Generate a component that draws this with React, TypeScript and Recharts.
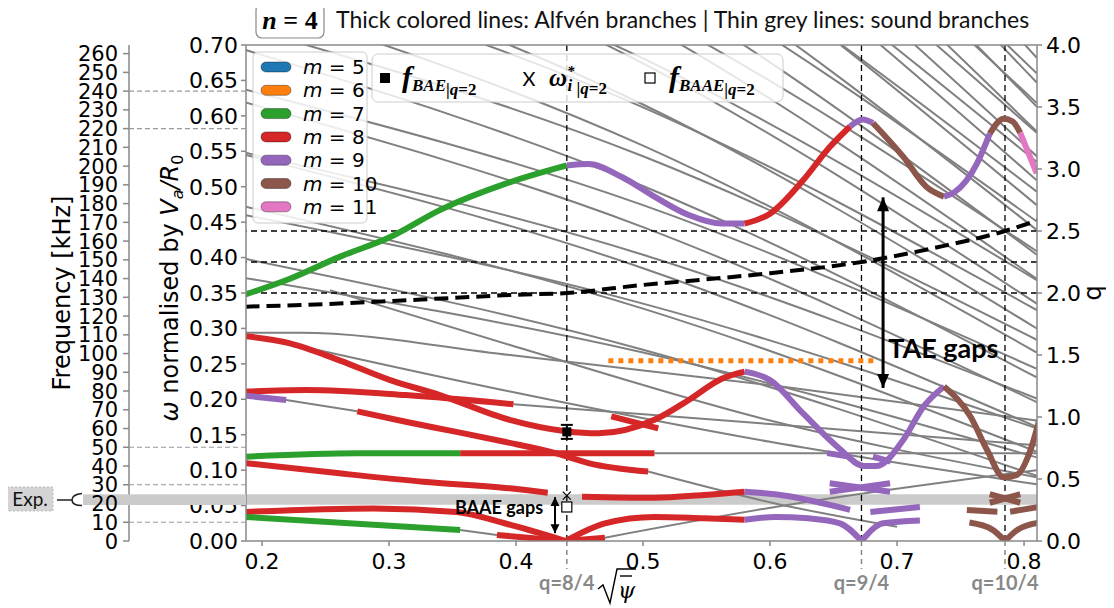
import React from 'react';
import { ComposedChart, Line, XAxis, YAxis, ReferenceLine, ReferenceArea, ReferenceDot } from 'recharts';

type Pt = [number, number];

// axes
const xTicks = [0.2, 0.3, 0.4, 0.5, 0.6, 0.7, 0.8];
const xDomain = [0.1874, 0.8102];
const omegaTicks = [0, 0.05, 0.1, 0.15, 0.2, 0.25, 0.3, 0.35, 0.4, 0.45, 0.5, 0.55, 0.6, 0.65, 0.7];
const omegaDomain = [0, 0.7];
const qTicks = [0, 0.5, 1, 1.5, 2, 2.5, 3, 3.5, 4];
const qDomain = [0, 4];
const freqTicks = [0, 10, 20, 30, 40, 50, 60, 70, 80, 90, 100, 110, 120, 130, 140, 150, 160, 170, 180, 190, 200, 210, 220, 230, 240, 250, 260];
const freqDashed = [10, 30, 50, 220, 240];
const kHzPerOmega = 378;
const freqDomain = [0, 0.7 * kHzPerOmega];
const expBand: Pt = [0.051, 0.066];

const rationalSurfaces = [
  { x: 0.44, label: 'q=8/4' },
  { x: 0.672, label: 'q=9/4' },
  { x: 0.785, label: 'q=10/4' },
];
const qLevels = [2, 2.25, 2.5];

// q profile (right axis)
const qProfile: Pt[] = [
  [0.187, 1.89], [0.25, 1.91], [0.3, 1.935], [0.35, 1.96], [0.395, 1.984], [0.44, 2.0], [0.5, 2.065],
  [0.55, 2.11], [0.6, 2.16], [0.672, 2.25], [0.73, 2.365], [0.785, 2.5], [0.812, 2.59],
];

// thin grey sound branches
const soundSteep: Pt[][] = [
  [[0.187, 0.398], [0.5, 0.27], [0.81, 0.092]],
  [[0.187, 0.472], [0.5, 0.328], [0.81, 0.126]],
  [[0.187, 0.545], [0.5, 0.385], [0.81, 0.161]],
  [[0.187, 0.619], [0.5, 0.443], [0.81, 0.196]],
  [[0.187, 0.693], [0.5, 0.501], [0.81, 0.231]],
  [[0.187, 0.766], [0.5, 0.558], [0.81, 0.266]],
  [[0.187, 0.84], [0.5, 0.616], [0.81, 0.3]],
  [[0.187, 0.914], [0.5, 0.674], [0.81, 0.335]],
  [[0.187, 0.988], [0.5, 0.731], [0.81, 0.37]],
  [[0.187, 1.06], [0.5, 0.789], [0.81, 0.404]],
  [[0.187, 1.14], [0.5, 0.847], [0.81, 0.439]],
  [[0.187, 1.21], [0.5, 0.904], [0.81, 0.474]],
  [[0.187, 1.28], [0.5, 0.962], [0.81, 0.509]],
  [[0.187, 1.36], [0.5, 1.02], [0.81, 0.543]],
  [[0.187, 1.43], [0.5, 1.08], [0.81, 0.578]],
  [[0.187, 1.5], [0.5, 1.14], [0.81, 0.613]],
  [[0.187, 1.58], [0.5, 1.19], [0.81, 0.647]],
  [[0.187, 1.65], [0.5, 1.25], [0.81, 0.682]],
];
const soundGentle: Pt[][] = [
  [[0.187, 0.371], [0.5, 0.266], [0.81, 0.118]],
  [[0.187, 0.46], [0.5, 0.335], [0.81, 0.159]],
  [[0.187, 0.548], [0.5, 0.404], [0.81, 0.201]],
  [[0.187, 0.637], [0.5, 0.474], [0.81, 0.243]],
  [[0.187, 0.725], [0.5, 0.543], [0.81, 0.284]],
  [[0.187, 0.814], [0.5, 0.612], [0.81, 0.326]],
  [[0.187, 0.902], [0.5, 0.681], [0.81, 0.368]],
  [[0.187, 0.991], [0.5, 0.75], [0.81, 0.409]],
  [[0.187, 1.08], [0.5, 0.82], [0.81, 0.451]],
  [[0.187, 1.17], [0.5, 0.889], [0.81, 0.493]],
  [[0.187, 1.26], [0.5, 0.958], [0.81, 0.535]],
  [[0.187, 1.34], [0.5, 1.03], [0.81, 0.576]],
  [[0.187, 1.43], [0.5, 1.1], [0.81, 0.618]],
  [[0.187, 1.52], [0.5, 1.16], [0.81, 0.66]],
  [[0.187, 1.61], [0.5, 1.23], [0.81, 0.701]],
];
const soundLow: Pt[][] = [
  [[0.2535, 0.354], [0.3953, 0.2766], [0.6, 0.17], [0.81, 0.09]],
  [[0.187, 0.294], [0.23, 0.294], [0.3953, 0.2625], [0.6, 0.22], [0.81, 0.17]],
  [[0.198, 0.288], [0.3953, 0.211], [0.6, 0.14], [0.81, 0.08]],
  [[0.398, 0.193], [0.6, 0.165], [0.81, 0.135]],
  [[0.219, 0.199], [0.275, 0.183]],
  [[0.504, 0.098], [0.604, 0.053], [0.7, 0.02]],
  [[0.509, 0.1237], [0.812, 0.1237]],
  [[0.356, 0.0155], [0.385, 0.0085]],
  [[0.47, 0.0047], [0.604, 0.048], [0.81, 0.1]],
];

// thick coloured Alfven branches, m -> colour
const mColors: Record<number, string> = {
  5: '#1f77b4', 6: '#ff7f0e', 7: '#2ca02c', 8: '#d62728', 9: '#9467bd', 10: '#8c564b', 11: '#e377c2',
};
const legendM = [5, 6, 7, 8, 9, 10, 11];

const alfven: { m: number; pts: Pt[] }[] = [
  // upper TAE-like branch
  { m: 7, pts: [[0.187, 0.348], [0.222, 0.37], [0.261, 0.401], [0.301, 0.429], [0.34, 0.467], [0.393, 0.505], [0.44, 0.53]] },
  { m: 9, pts: [[0.44, 0.53], [0.457, 0.532], [0.483, 0.514], [0.509, 0.486], [0.536, 0.46], [0.562, 0.448], [0.58, 0.448]] },
  { m: 8, pts: [[0.58, 0.448], [0.6, 0.462], [0.626, 0.509], [0.647, 0.556], [0.663, 0.585]] },
  { m: 9, pts: [[0.663, 0.585], [0.673, 0.595], [0.681, 0.59]] },
  { m: 10, pts: [[0.681, 0.59], [0.705, 0.542], [0.723, 0.5], [0.737, 0.486]] },
  { m: 9, pts: [[0.737, 0.486], [0.745, 0.492], [0.763, 0.533], [0.773, 0.575]] },
  { m: 10, pts: [[0.773, 0.575], [0.784, 0.596], [0.791, 0.592], [0.797, 0.576]] },
  { m: 11, pts: [[0.797, 0.576], [0.81, 0.519]] },
  // lower branch through BAE
  { m: 8, pts: [[0.187, 0.289], [0.222, 0.279], [0.261, 0.255], [0.301, 0.227], [0.34, 0.206], [0.395, 0.171], [0.439, 0.155], [0.465, 0.152], [0.509, 0.171], [0.536, 0.199], [0.562, 0.229], [0.58, 0.239]] },
  { m: 9, pts: [[0.58, 0.239], [0.6, 0.227], [0.626, 0.18], [0.653, 0.133], [0.674, 0.106], [0.684, 0.106], [0.705, 0.143], [0.721, 0.19], [0.737, 0.218]] },
  { m: 10, pts: [[0.737, 0.218], [0.758, 0.175], [0.771, 0.128], [0.784, 0.09], [0.794, 0.093], [0.805, 0.128], [0.812, 0.171]] },
  { m: 8, pts: [[0.475, 0.176], [0.512, 0.159]] },
  // near-horizontal branches
  { m: 8, pts: [[0.187, 0.211], [0.235, 0.213], [0.313, 0.206], [0.398, 0.193]] },
  { m: 9, pts: [[0.187, 0.205], [0.219, 0.199]] },
  { m: 8, pts: [[0.275, 0.183], [0.314, 0.168], [0.353, 0.154], [0.391, 0.14], [0.431, 0.124], [0.457, 0.11], [0.504, 0.098]] },
  { m: 7, pts: [[0.187, 0.119], [0.275, 0.1237], [0.356, 0.1237]] },
  { m: 8, pts: [[0.356, 0.1237], [0.509, 0.1237]] },
  { m: 8, pts: [[0.187, 0.11], [0.261, 0.0955], [0.327, 0.0837], [0.395, 0.0744], [0.425, 0.068]] },
  { m: 8, pts: [[0.452, 0.0625], [0.509, 0.061], [0.548, 0.065], [0.58, 0.0696]] },
  { m: 9, pts: [[0.58, 0.0696], [0.604, 0.066], [0.663, 0.044]] },
  // continuum V shapes
  { m: 8, pts: [[0.187, 0.041], [0.288, 0.046], [0.353, 0.041], [0.393, 0.024], [0.439, 0.0]] },
  { m: 8, pts: [[0.439, 0.0], [0.47, 0.025], [0.509, 0.034], [0.548, 0.032], [0.58, 0.03]] },
  { m: 9, pts: [[0.58, 0.03], [0.604, 0.034], [0.63, 0.032], [0.655, 0.025], [0.672, 0.0]] },
  { m: 9, pts: [[0.672, 0.0], [0.689, 0.025], [0.718, 0.029]] },
  { m: 7, pts: [[0.187, 0.034], [0.356, 0.0155]] },
  { m: 8, pts: [[0.385, 0.0085], [0.439, 0.0]] },
  { m: 8, pts: [[0.439, 0.0], [0.47, 0.0047]] },
  { m: 9, pts: [[0.647, 0.0814], [0.6945, 0.0696]] },
  { m: 9, pts: [[0.647, 0.0696], [0.6945, 0.0814]] },
  { m: 9, pts: [[0.679, 0.041], [0.718, 0.048]] },
  { m: 9, pts: [[0.645, 0.124], [0.663, 0.119]] },
  { m: 9, pts: [[0.681, 0.119], [0.695, 0.112]] },
  { m: 10, pts: [[0.773, 0.066], [0.797, 0.054]] },
  { m: 10, pts: [[0.773, 0.054], [0.797, 0.066]] },
  { m: 10, pts: [[0.755, 0.0437], [0.779, 0.0414]] },
  { m: 10, pts: [[0.789, 0.0414], [0.813, 0.0484]] },
  { m: 10, pts: [[0.757, 0.026], [0.775, 0.016], [0.785, 0.0]] },
  { m: 10, pts: [[0.785, 0.0], [0.795, 0.016], [0.812, 0.026]] },
];

// annotations
const fBAE: Pt = [0.44, 0.154];
const omegaStar: Pt = [0.44, 0.064];
const fBAAE: Pt = [0.44, 0.048];
const taeArrow: Pt[] = [[0.689, 0.485], [0.689, 0.216]];
const baaeArrow: Pt[] = [[0.4307, 0.062], [0.4307, 0.011]];
const taeLimit: Pt[] = [[0.4727, 0.2545], [0.6813, 0.2545]];
const taeText: Pt = [0.693, 0.272];
const baaeText: Pt = [0.4213, 0.0466];

const rows = (pts: Pt[]) => pts.map(([x, y]) => ({ x, y }));

const tickFont = { fontSize: 22, fontFamily: 'DejaVu Sans', fill: '#000' };
const fmt1 = (v: number) => v.toFixed(1);
const fmt2 = (v: number) => v.toFixed(2);

const FreqTick = (props: any) => {
  const { x, y, payload } = props;
  const ax = x + 11;
  const v = payload.value;
  return (
    <g>
      {v === 20 && (
        <g>
          <rect x={ax - 46} y={y - 9.2} width={163} height={10.7} fill="#cbcbcb" />
          <rect x={ax - 122} y={y - 16.5} width={46} height={24} fill="#d4d4d4" stroke="#bbb" strokeDasharray="2 2" />
          <text x={ax - 99} y={y - 4.5} dy="0.35em" textAnchor="middle" fontSize={19} fontFamily="Lato" fill="#111">Exp.</text>
          <path d={`M${ax - 72},${y - 3.5} H${ax - 57} M${ax - 47},${y - 10} Q${ax - 57},${y - 9} ${ax - 57},${y - 3.5} Q${ax - 57},${y + 2} ${ax - 47},${y + 2}`} fill="none" stroke="#222" strokeWidth={1.6} />
        </g>
      )}
      {freqDashed.includes(v) && (
        <line x1={ax} x2={ax + 117} y1={y} y2={y} stroke="#999" strokeWidth={1.2} strokeDasharray="5 3" />
      )}
      <text x={x} y={y} dy="0.36em" textAnchor="end" fontSize={21} fontFamily="DejaVu Sans" fill="#000">{v}</text>
    </g>
  );
};
const freqTick = (p: any) => <FreqTick {...p} />;

const QLabel = (props: any) => {
  const { viewBox, text } = props;
  if (!viewBox) return null;
  const x = viewBox.x;
  const bottom = viewBox.y + viewBox.height;
  return (
    <g>
      <line x1={x} x2={x} y1={bottom} y2={bottom + 28} stroke="#888" strokeWidth={1.5} strokeDasharray="5 4" />
      <text x={x} y={bottom + 49} textAnchor="middle" fill="#888" fontSize={20} fontWeight="bold" fontFamily="Lato">{text}</text>
    </g>
  );
};

const arrowHead = (w: number, h: number) => (props: any) => {
  const { cx, cy, index } = props;
  const dir = index === 0 ? 1 : -1;
  return <path key={`a${index}`} d={`M${cx},${cy} L${cx - w},${cy + dir * h} L${cx + w},${cy + dir * h} Z`} fill="#000" />;
};
const taeHead = arrowHead(6, 14);
const baaeHead = arrowHead(4.5, 9);

const BaeMarker = (p: any) => (
  <g>
    <line x1={p.cx} x2={p.cx} y1={p.cy - 7} y2={p.cy + 7} stroke="#000" strokeWidth={2} />
    <line x1={p.cx - 6} x2={p.cx + 6} y1={p.cy - 7} y2={p.cy - 7} stroke="#000" strokeWidth={2} />
    <line x1={p.cx - 6} x2={p.cx + 6} y1={p.cy + 7} y2={p.cy + 7} stroke="#000" strokeWidth={2} />
    <rect x={p.cx - 4.5} y={p.cy - 4.5} width={9} height={9} fill="#000" />
  </g>
);
const StarMarker = (p: any) => (
  <path d={`M${p.cx - 4},${p.cy - 4} L${p.cx + 4},${p.cy + 4} M${p.cx - 4},${p.cy + 4} L${p.cx + 4},${p.cy - 4}`} stroke="#000" strokeWidth={1.2} />
);
const BaaeMarker = (p: any) => (
  <rect x={p.cx - 5} y={p.cy - 5} width={10} height={10} fill="#fff" stroke="#000" strokeWidth={1.2} />
);
const TaeLabel = (p: any) => (
  <text x={p.cx} y={p.cy} dy="0.35em" fontFamily="Lato" fontWeight="bold" fontSize={27}>TAE gaps</text>
);
const BaaeLabel = (p: any) => (
  <text x={p.cx} y={p.cy} dy="0.35em" textAnchor="end" fontFamily="Lato" fontWeight="bold" fontSize={18}>BAAE gaps</text>
);

const serif = 'Liberation Serif';

const Overlay = () => (
  <svg width={1114} height={608} style={{ position: 'absolute', left: -8, top: -8, pointerEvents: 'none' }}>
    {/* title */}
    <rect x={256} y={4} width={68} height={34} rx={6} fill="#fff" stroke="#888" strokeWidth={1.2} />
    <text x={290} y={29} textAnchor="middle" fontFamily={serif} fontWeight="bold" fontSize={26}>
      <tspan fontStyle="italic">n</tspan> = 4
    </text>
    <text x={336} y={28} fontFamily="Lato" fontSize={23} fill="#111">
      Thick colored lines: Alfvén branches | Thin grey lines: sound branches
    </text>
    {/* axis titles */}
    <text transform="translate(70,293) rotate(-90)" textAnchor="middle" fontFamily="DejaVu Sans" fontSize={24}>Frequency [kHz]</text>
    <text transform="translate(178,288) rotate(-90)" textAnchor="middle" fontFamily="DejaVu Sans" fontSize={24}>
      <tspan fontStyle="italic">ω</tspan> normalised by <tspan fontStyle="italic">V</tspan>
      <tspan fontSize={16} dy={5} fontStyle="italic">a</tspan>
      <tspan dy={-5} fontStyle="italic">/R</tspan>
      <tspan fontSize={16} dy={5}>0</tspan>
    </text>
    <text transform="translate(1101,293) rotate(-90)" textAnchor="middle" fontFamily="DejaVu Sans" fontSize={24}>q</text>
    <path d="M598,589 L603,585 L610,603 L617,569 L636,569" fill="none" stroke="#000" strokeWidth={1.4} />
    <line x1={620} x2={632} y1={576} y2={576} stroke="#000" strokeWidth={1.4} />
    <text x={618} y={598} fontFamily="DejaVu Serif" fontStyle="italic" fontSize={22}>ψ</text>
    {/* m legend */}
    <rect x={253} y={52} width={114} height={171} rx={5} fill="rgba(255,255,255,0.85)" stroke="#ccc" />
    {legendM.map((m, i) => (
      <g key={m}>
        <rect x={261} y={62 + 23.3 * i} width={30} height={10} rx={5} fill={mColors[m]} stroke="rgba(0,0,0,0.35)" strokeWidth={1} />
        <text x={303} y={74 + 23.3 * i} fontFamily="DejaVu Sans" fontSize={20}>
          <tspan fontStyle="italic">m</tspan> = {m}
        </text>
      </g>
    ))}
    {/* marker legend */}
    <rect x={372} y={54} width={411} height={48} rx={6} fill="rgba(255,255,255,0.8)" stroke="#ccc" />
    <rect x={380} y={73} width={10} height={10} fill="#000" />
    <text x={402} y={87} fontFamily={serif} fontWeight="bold" fontStyle="italic">
      <tspan fontSize={30}>f</tspan>
      <tspan fontSize={17} dy={4}>BAE</tspan>
      <tspan fontSize={17} dy={4} fontStyle="normal">|</tspan>
      <tspan fontSize={17}>q</tspan>
      <tspan fontSize={17} fontStyle="normal">=2</tspan>
    </text>
    <text x={529} y={86} textAnchor="middle" fontFamily="Lato" fontSize={20}>X</text>
    <text x={549} y={86} fontFamily={serif} fontWeight="bold" fontStyle="italic">
      <tspan fontSize={25}>ω</tspan>
      <tspan fontSize={15} dy={-10}>*</tspan>
      <tspan fontSize={17} dx={-7} dy={15}>i</tspan>
      <tspan fontSize={17} dy={3} fontStyle="normal"> |</tspan>
      <tspan fontSize={17}>q</tspan>
      <tspan fontSize={17} fontStyle="normal">=2</tspan>
    </text>
    <rect x={645} y={73} width={10} height={10} fill="#fff" stroke="#000" strokeWidth={1.2} />
    <text x={669} y={87} fontFamily={serif} fontWeight="bold" fontStyle="italic">
      <tspan fontSize={30}>f</tspan>
      <tspan fontSize={17} dy={4}>BAAE</tspan>
      <tspan fontSize={17} dy={4} fontStyle="normal">|</tspan>
      <tspan fontSize={17}>q</tspan>
      <tspan fontSize={17} fontStyle="normal">=2</tspan>
    </text>
  </svg>
);

const chartMargin = { top: 37, right: 0, bottom: 0, left: 0 };

export default function App() {
  return (
    <div style={{ position: 'relative', width: 1106, height: 600 }}>
      <ComposedChart width={1106} height={600} margin={chartMargin}>
        <XAxis
          type="number"
          dataKey="x"
          domain={xDomain}
          ticks={xTicks}
          allowDataOverflow
          height={67}
          tickFormatter={fmt1}
          stroke="#888"
          strokeWidth={1.5}
          tickSize={5}
          tickMargin={7}
          tick={tickFont}
        />
        <YAxis
          yAxisId="a"
          orientation="left"
          width={117}
          domain={omegaDomain}
          ticks={omegaTicks}
          allowDataOverflow
          tickFormatter={fmt2}
          stroke="#888"
          strokeWidth={1.5}
          tickSize={5}
          tickMargin={3}
          tick={tickFont}
        />
        <YAxis
          yAxisId="b"
          orientation="left"
          width={121}
          domain={freqDomain}
          ticks={freqTicks}
          interval={0}
          allowDataOverflow
          stroke="#888"
          strokeWidth={1.5}
          tickSize={6}
          tickMargin={5}
          tick={freqTick}
        />
        <YAxis
          yAxisId="q"
          orientation="right"
          width={77}
          domain={qDomain}
          ticks={qTicks}
          allowDataOverflow
          tickFormatter={fmt1}
          stroke="#888"
          strokeWidth={1.5}
          tickSize={5}
          tickMargin={4}
          tick={tickFont}
        />

        <ReferenceArea yAxisId="a" y1={expBand[0]} y2={expBand[1]} fill="#cbcbcb" fillOpacity={1} stroke="none" />

        {[...soundSteep, ...soundGentle, ...soundLow].map((pts, i) => (
          <Line key={`s${i}`} data={rows(pts)} dataKey="y" yAxisId="a" type="monotone" stroke="#808080"
            strokeWidth={2} dot={false} activeDot={false} isAnimationActive={false} />
        ))}

        {qLevels.map((q) => (
          <ReferenceLine key={`ql${q}`} yAxisId="q" y={q} stroke="#000" strokeWidth={1.3} strokeDasharray="6 4" />
        ))}
        {rationalSurfaces.map((r) => (
          <ReferenceLine key={r.label} yAxisId="a" x={r.x} stroke="#000" strokeWidth={1.3} strokeDasharray="6 4"
            label={<QLabel text={r.label} />} />
        ))}
        <ReferenceLine yAxisId="a" y={0.7} stroke="#888" strokeWidth={1.5} />

        <Line data={rows(taeLimit)} dataKey="y" yAxisId="a" type="linear" stroke="#ff7f0e" strokeWidth={5}
          strokeDasharray="5 5" dot={false} activeDot={false} isAnimationActive={false} />

        <Line data={rows(qProfile)} dataKey="y" yAxisId="q" type="monotone" stroke="#000" strokeWidth={4}
          strokeDasharray="14 7" dot={false} activeDot={false} isAnimationActive={false} />

        {alfven.map((b, i) => (
          <Line key={`a${i}`} data={rows(b.pts)} dataKey="y" yAxisId="a" type="monotone" stroke={mColors[b.m]}
            strokeWidth={6} dot={false} activeDot={false} isAnimationActive={false} />
        ))}

        <Line data={rows(taeArrow)} dataKey="y" yAxisId="a" type="linear" stroke="#000" strokeWidth={3}
          dot={taeHead} activeDot={false} isAnimationActive={false} />
        <Line data={rows(baaeArrow)} dataKey="y" yAxisId="a" type="linear" stroke="#000" strokeWidth={2}
          dot={baaeHead} activeDot={false} isAnimationActive={false} />

        <ReferenceDot yAxisId="a" x={fBAE[0]} y={fBAE[1]} shape={BaeMarker} />
        <ReferenceDot yAxisId="a" x={omegaStar[0]} y={omegaStar[1]} shape={StarMarker} />
        <ReferenceDot yAxisId="a" x={fBAAE[0]} y={fBAAE[1]} shape={BaaeMarker} />
        <ReferenceDot yAxisId="a" x={taeText[0]} y={taeText[1]} shape={TaeLabel} />
        <ReferenceDot yAxisId="a" x={baaeText[0]} y={baaeText[1]} shape={BaaeLabel} />
      </ComposedChart>
      <Overlay />
    </div>
  );
}
